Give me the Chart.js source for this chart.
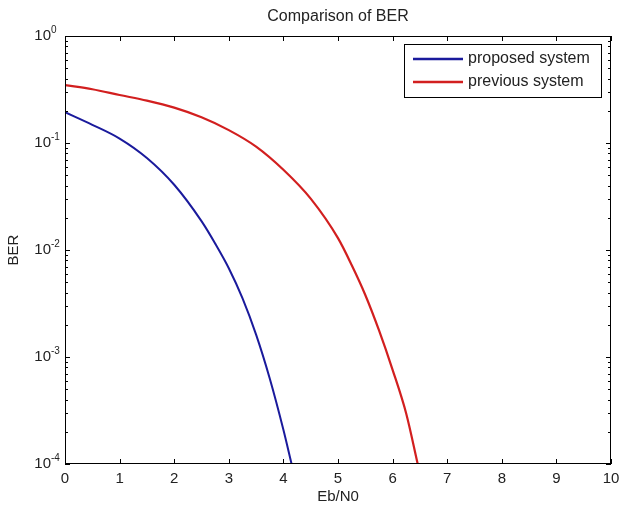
<!DOCTYPE html>
<html><head><meta charset="utf-8">
<script src="https://cdn.jsdelivr.net/npm/chart.js@4/dist/chart.umd.min.js"></script>
<style>html,body{margin:0;padding:0;background:#fff;}canvas{display:block}</style>
</head><body>
<canvas id="c" width="619" height="511"></canvas>
<script>
const titleText = 'Comparison of BER';
const xLabel = 'Eb/N0';
const yLabel = 'BER';
const xTickValues = [0, 1, 2, 3, 4, 5, 6, 7, 8, 9, 10];
const yDecades = [0, -1, -2, -3, -4];
const seriesNames = ['proposed system', 'previous system'];
const proposedEb = [0, 0.5, 1, 1.5, 2, 2.5, 2.75, 3, 3.25, 3.5, 3.75, 4, 4.15];
const proposedBer = [0.194, 0.148, 0.110, 0.0724, 0.0407, 0.0186, 0.0115, 0.00676, 0.00355, 0.00162, 0.00063, 0.000209, 0.0001];
const previousEb = [0, 0.5, 1, 1.5, 2, 2.5, 3, 3.5, 4, 4.5, 5, 5.25, 5.5, 5.75, 6, 6.25, 6.46];
const previousBer = [0.348, 0.318, 0.281, 0.249, 0.214, 0.174, 0.132, 0.0925, 0.0562, 0.0302, 0.0129, 0.00724, 0.0038, 0.00178, 0.000759, 0.000295, 0.0001];

const FONT = '"Liberation Sans", Arial, sans-serif';
const toPts = (xs, ys) => xs.map((x, i) => ({x: x, y: ys[i]}));

const decor = {
  id: 'decor',
  afterDraw(chart) {
    const ctx = chart.ctx, a = chart.chartArea;
    const xs = chart.scales.x, ys = chart.scales.y;
    ctx.save();
    ctx.strokeStyle = '#000';
    ctx.lineWidth = 1;
    ctx.strokeRect(a.left + 0.5, a.top + 0.5, a.right - a.left - 1, a.bottom - a.top - 1);
    ctx.beginPath();
    xTickValues.forEach(v => {
      const px = Math.round(xs.getPixelForValue(v)) + 0.5;
      ctx.moveTo(px, a.bottom); ctx.lineTo(px, a.bottom - 5);
      ctx.moveTo(px, a.top); ctx.lineTo(px, a.top + 5);
    });
    yDecades.forEach(d => {
      const py = Math.round(ys.getPixelForValue(Math.pow(10, d))) + 0.5;
      ctx.moveTo(a.left, py); ctx.lineTo(a.left + 5, py);
      ctx.moveTo(a.right, py); ctx.lineTo(a.right - 5, py);
      if (d < 0) {
        for (let m = 2; m <= 9; m++) {
          const pm = Math.round(ys.getPixelForValue(m * Math.pow(10, d))) + 0.5;
          ctx.moveTo(a.left, pm); ctx.lineTo(a.left + 3, pm);
          ctx.moveTo(a.right, pm); ctx.lineTo(a.right - 3, pm);
        }
      }
    });
    ctx.stroke();

    ctx.fillStyle = '#222';
    ctx.font = '15px ' + FONT;
    ctx.textAlign = 'center';
    ctx.textBaseline = 'middle';
    xTickValues.forEach(v => {
      ctx.fillText(String(v), xs.getPixelForValue(v), a.bottom + 15);
    });
    yDecades.forEach(d => {
      const py = ys.getPixelForValue(Math.pow(10, d));
      ctx.font = '15px ' + FONT;
      ctx.textAlign = 'right';
      ctx.textBaseline = 'middle';
      ctx.fillText('10', 51, py);
      ctx.font = '10px ' + FONT;
      ctx.textAlign = 'left';
      ctx.fillText(String(d), 51, py - 6);
    });
    ctx.font = '16px ' + FONT;
    ctx.textAlign = 'center';
    ctx.textBaseline = 'middle';
    ctx.fillText(titleText, (a.left + a.right) / 2, 17);
    ctx.font = '15px ' + FONT;
    ctx.fillText(xLabel, (a.left + a.right) / 2, 497);
    ctx.save();
    ctx.translate(14, (a.top + a.bottom) / 2);
    ctx.rotate(-Math.PI / 2);
    ctx.fillText(yLabel, 0, 0);
    ctx.restore();

    const lx = 404, ly = 44, lw = 198, lh = 54;
    ctx.fillStyle = '#fff';
    ctx.fillRect(lx, ly, lw, lh);
    ctx.strokeStyle = '#000';
    ctx.strokeRect(lx + 0.5, ly + 0.5, lw - 1, lh - 1);
    chart.data.datasets.forEach((ds, i) => {
      const yy = ly + 15 + i * 23;
      ctx.strokeStyle = ds.borderColor;
      ctx.lineWidth = 2.5;
      ctx.beginPath(); ctx.moveTo(413, yy); ctx.lineTo(463, yy); ctx.stroke();
      ctx.fillStyle = '#222';
      ctx.font = '16px ' + FONT;
      ctx.textAlign = 'left';
      ctx.textBaseline = 'middle';
      ctx.fillText(ds.label, 468, yy);
    });
    ctx.restore();
  }
};

new Chart(document.getElementById('c'), {
  type: 'line',
  data: {
    datasets: [
      {label: seriesNames[0], data: toPts(proposedEb, proposedBer), borderColor: '#1a1a9c', borderWidth: 2, pointRadius: 0, cubicInterpolationMode: 'monotone', fill: false},
      {label: seriesNames[1], data: toPts(previousEb, previousBer), borderColor: '#d21f1f', borderWidth: 2.2, pointRadius: 0, cubicInterpolationMode: 'monotone', fill: false}
    ]
  },
  options: {
    responsive: false,
    animation: false,
    devicePixelRatio: 1,
    layout: {padding: {left: 65, right: 8, top: 36, bottom: 47}},
    plugins: {legend: {display: false}, title: {display: false}, tooltip: {enabled: false}},
    scales: {
      x: {type: 'linear', min: 0, max: 10, display: false},
      y: {type: 'logarithmic', min: 1e-4, max: 1, display: false}
    }
  },
  plugins: [decor]
});
</script>
</body></html>
